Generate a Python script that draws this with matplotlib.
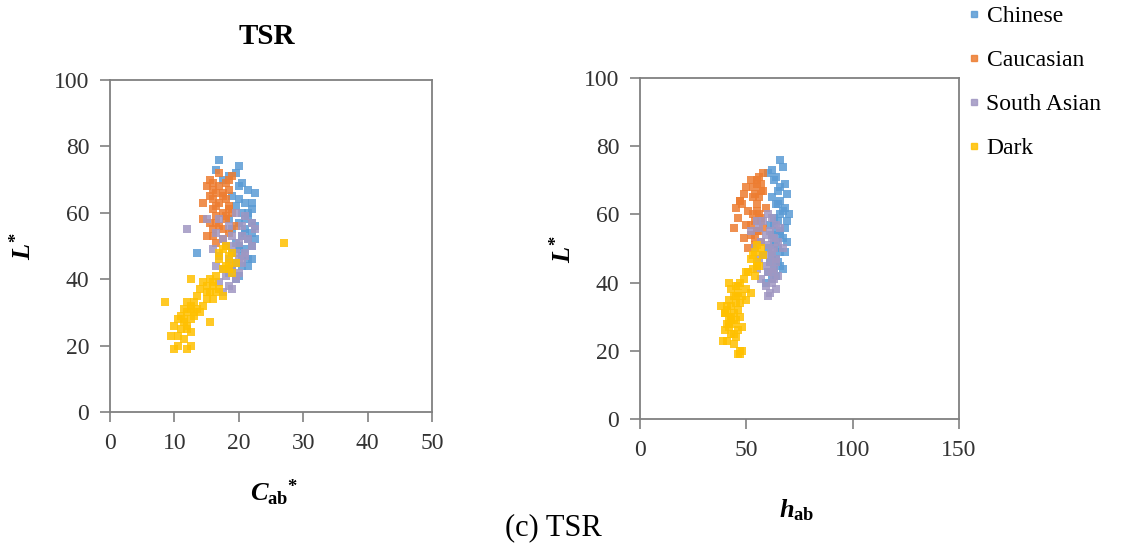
import matplotlib
matplotlib.use('Agg')
import matplotlib.pyplot as plt
from matplotlib.lines import Line2D

plt.rcParams['font.family'] = ['Liberation Serif', 'DejaVu Serif']
plt.rcParams['mathtext.fontset'] = 'custom'
plt.rcParams['mathtext.it'] = 'Liberation Serif:italic:bold'
plt.rcParams['mathtext.rm'] = 'Liberation Serif:bold'
plt.rcParams['mathtext.bf'] = 'Liberation Serif:bold'

groups = ['Chinese', 'Caucasian', 'South Asian', 'Dark']
colors = ['#5B9BD5', '#ED7D31', '#A097C2', '#FFC000']

# each sample: L*, C*ab, hab
chinese_L = [76, 74, 73, 72, 71, 70, 69, 67, 66, 65, 64, 63, 62, 61, 60, 59, 58, 57, 56, 55,
             55, 54, 53, 52, 51, 50, 50, 49, 48, 48, 47, 46, 45, 44, 43, 42, 41, 40,
             68, 63, 58, 54, 52, 49, 46, 44, 57, 60]
chinese_C = [17.0, 20.0, 16.5, 19.5, 18.5, 17.5, 20.5, 21.5, 22.5, 19.0, 20.0, 21.0, 19.5, 22.0,
             20.5, 21.5, 18.5, 20.0, 22.5, 21.0, 19.0, 22.0, 20.5, 21.5, 19.5, 22.0, 20.0, 21.0,
             13.5, 19.0, 20.5, 21.5, 19.5, 20.5, 19.0, 18.5, 20.0, 19.5,
             20.0, 22.0, 21.0, 21.0, 22.5, 20.0, 22.0, 21.5, 22.0, 21.5]
chinese_h = [66, 67, 62, 60, 64, 63, 68, 65, 69, 62, 66, 64, 68, 67, 70, 63, 65, 61, 68, 66,
             64, 62, 67, 69, 63, 65, 60, 66, 58, 62, 64, 61, 66, 63, 60, 64, 62, 59,
             66, 65, 69, 66, 64, 68, 65, 67, 63, 66]

caucasian_L = [72, 71, 70, 69, 69, 68, 68, 67, 66, 66, 65, 64, 64, 63, 63, 62, 62, 61, 60, 60,
               59, 58, 58, 57, 56, 56, 55, 54, 53, 52, 51, 50,
               70, 67, 65, 61, 59, 57, 55, 53]
caucasian_C = [17.0, 19.0, 15.5, 16.0, 18.0, 17.0, 15.0, 18.5, 16.5, 17.5, 15.5, 18.0, 16.0, 17.0,
               14.5, 18.5, 16.5, 16.0, 17.5, 19.0, 16.5, 14.5, 18.0, 15.5, 17.0, 19.5, 16.0, 18.5,
               15.0, 17.5, 16.5, 18.0,
               18.5, 16.0, 17.5, 18.5, 18.0, 16.5, 17.5, 16.0]
caucasian_h = [58, 56, 52, 55, 57, 53, 50, 58, 54, 49, 56, 47, 47, 55, 48, 59, 45, 51, 56, 53,
               46, 54, 57, 50, 44, 58, 55, 52, 49, 57, 54, 51,
               55, 57, 53, 55, 57, 52, 56, 54]

south_asian_L = [60, 59, 58, 58, 57, 56, 56, 55, 55, 54, 53, 52, 52, 51, 50, 50, 49, 48, 47, 47,
                 46, 45, 44, 44, 43, 42, 41, 40, 39, 38, 37, 36,
                 53, 50, 48, 46, 43, 41]
south_asian_C = [19.5, 21.0, 17.0, 15.0, 22.0, 18.5, 20.5, 22.5, 12.0, 16.5, 19.0, 21.5, 17.5, 20.0,
                 18.0, 22.0, 16.0, 19.5, 21.0, 17.0, 18.5, 20.5, 16.5, 19.0, 17.5, 20.0, 18.0, 19.5,
                 17.0, 18.5, 19.0, 17.5,
                 20.5, 19.0, 21.0, 20.0, 18.5, 19.5]
south_asian_h = [60, 62, 58, 55, 64, 56, 66, 61, 52, 59, 63, 57, 65, 60, 54, 67, 62, 58, 64, 56,
                 61, 59, 63, 55, 60, 65, 57, 62, 59, 64, 61, 60,
                 62, 63, 61, 64, 62, 63]

dark_L = [51, 50, 49, 48, 47, 46, 45, 44, 43, 42, 41, 40, 40, 39, 38, 38, 37, 37, 36, 36,
          35, 35, 34, 34, 33, 33, 32, 32, 31, 31, 30, 30, 29, 29, 28, 28, 27, 27, 26, 26,
          25, 24, 23, 23, 22, 20, 20, 19, 19,
          48, 45, 43, 39, 36, 33, 30, 28, 25, 31]
dark_C = [27.0, 18.0, 17.5, 19.0, 18.5, 17.0, 19.5, 18.0, 17.5, 19.0, 16.5, 12.5, 15.5, 14.5,
          16.0, 15.0, 17.0, 14.0, 16.5, 15.5, 17.5, 13.5, 15.0, 16.0, 8.5, 13.0, 14.5, 12.5,
          13.5, 11.5, 12.0, 14.0, 11.0, 13.0, 12.5, 10.5, 15.5, 11.5, 12.0, 10.0, 11.0, 12.5,
          9.5, 10.5, 11.5, 10.5, 12.5, 10.0, 12.0,
          17.0, 18.5, 18.5, 16.0, 15.0, 12.0, 13.0, 11.5, 12.0, 12.5]
dark_h = [55, 57, 54, 58, 52, 55, 56, 53, 51, 54, 49, 42, 47, 45, 50, 43, 52, 46, 48, 44,
          50, 42, 47, 45, 38, 43, 46, 41, 44, 40, 42, 47, 43, 45, 41, 44, 48, 42, 46, 40,
          43, 45, 39, 41, 44, 47, 48, 46, 47,
          53, 55, 50, 46, 45, 41, 43, 42, 44, 40]

L_data = [chinese_L, caucasian_L, south_asian_L, dark_L]
C_data = [chinese_C, caucasian_C, south_asian_C, dark_C]
h_data = [chinese_h, caucasian_h, south_asian_h, dark_h]

fig = plt.figure(figsize=(11.25, 5.5), dpi=100)
ax1 = fig.add_axes([0.0978, 0.251, 0.2862, 0.6036])
ax2 = fig.add_axes([0.5689, 0.2382, 0.2836, 0.62])

for i in range(len(groups)):
    ax1.scatter(C_data[i], L_data[i], s=30, marker='s', color=colors[i], alpha=0.85, linewidths=0)
    ax2.scatter(h_data[i], L_data[i], s=30, marker='s', color=colors[i], alpha=0.85, linewidths=0)

ax1.set_xlim(0, 50)
ax1.set_xticks([0, 10, 20, 30, 40, 50])
ax2.set_xlim(0, 150)
ax2.set_xticks([0, 50, 100, 150])
for ax in (ax1, ax2):
    ax.set_ylim(0, 100)
    ax.set_yticks([0, 20, 40, 60, 80, 100])
    for sp in ax.spines.values():
        sp.set_color('#808080')
        sp.set_linewidth(1.3)
    ax.tick_params(direction='out', length=7, width=1.2, color='#808080',
                   labelsize=17, labelcolor='#333333', pad=8)

ax1.set_ylabel(r'$L^{*}$', fontsize=19)
ax1.yaxis.set_label_coords(-0.23, 0.5)
ax1.set_xlabel(r'$C_{\rm ab}{}^{*}$', fontsize=19)
ax1.xaxis.set_label_coords(0.51, -0.2)
ax2.set_ylabel(r'$L^{*}$', fontsize=19)
ax2.yaxis.set_label_coords(-0.2, 0.5)
ax2.set_xlabel(r'$h_{\rm ab}$', fontsize=19)
ax2.xaxis.set_label_coords(0.49, -0.23)

fig.text(267 / 1125, 1 - 37 / 550, 'TSR', fontsize=21, fontweight='bold',
         ha='center', va='center')
fig.text(553 / 1125, 1 - 528 / 550, '(c) TSR', fontsize=22, ha='center', va='center')

handles = [Line2D([], [], linestyle='none', marker='s', markersize=4, color=c, alpha=0.85)
           for c in colors]
fig.legend(handles, groups, loc='upper left', bbox_to_anchor=(0.858, 0.994), frameon=False,
           fontsize=17, labelspacing=0.95, handlelength=0.5, handletextpad=0.3,
           borderpad=0.1, borderaxespad=0.0)

fig.savefig('out.png', dpi=100)
